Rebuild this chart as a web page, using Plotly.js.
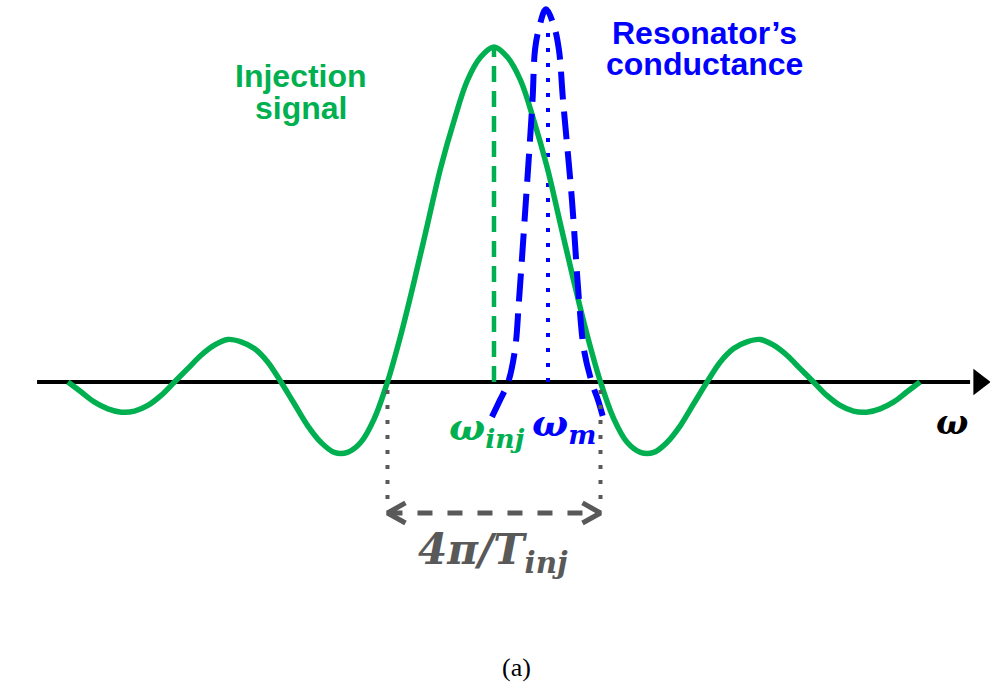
<!DOCTYPE html>
<html>
<head>
<meta charset="utf-8">
<script src="https://cdn.plot.ly/plotly-3.0.1.min.js"></script>
<style>html,body{margin:0;padding:0;background:#fff;}#chart{width:990px;height:689px;}</style>
</head>
<body>
<div id="chart"></div>
<script>
// ---- data (normalized frequency: main-lobe zero spacing = 1; amplitude: injection peak = 1)
const injX = [-4, -3.875, -3.75, -3.625, -3.5, -3.375, -3.25, -3.125, -3, -2.875, -2.75, -2.625, -2.5, -2.375, -2.25, -2.125,
              -2, -1.875, -1.75, -1.625, -1.5, -1.375, -1.25, -1.125, -1, -0.875, -0.75, -0.625, -0.5, -0.375, -0.25, -0.125,
              0, 0.125, 0.25, 0.375, 0.5, 0.625, 0.75, 0.875, 1, 1.125, 1.25, 1.375, 1.5, 1.625, 1.75, 1.875,
              2, 2.125, 2.25, 2.375, 2.5, 2.625, 2.75, 2.875, 3, 3.125, 3.25, 3.375, 3.5, 3.625, 3.75, 3.875, 4];
const injY = [0, -0.03, -0.06, -0.08, -0.09, -0.087, -0.07, -0.04, 0, 0.04, 0.08, 0.11, 0.127, 0.12, 0.10, 0.06,
              0, -0.065, -0.13, -0.18, -0.21, -0.21, -0.18, -0.11, 0, 0.14, 0.30, 0.47, 0.64, 0.78, 0.90, 0.97,
              1, 0.97, 0.90, 0.78, 0.64, 0.47, 0.30, 0.14, 0, -0.11, -0.18, -0.21, -0.21, -0.18, -0.13, -0.065,
              0, 0.06, 0.10, 0.12, 0.127, 0.11, 0.08, 0.04, 0, -0.04, -0.07, -0.087, -0.09, -0.08, -0.06, -0.03, 0];

const resX = [-0.019, 0.056, 0.131, 0.197, 0.235, 0.300, 0.362, 0.385, 0.423, 0.488,
              0.563, 0.610, 0.648, 0.732, 0.798, 0.845, 0.920, 0.977, 1.023];
const resY = [-0.104, -0.054, -0.003, 0.096, 0.245, 0.543, 0.842, 0.991, 1.057, 1.113,
              1.063, 0.991, 0.842, 0.543, 0.245, 0.096, -0.003, -0.054, -0.104];

const omegaInj = 0;        // injection centre frequency
const omegaInjPeak = 1;    // injection peak amplitude
const omegaM = 0.507;      // resonator centre frequency
const omegaMTop = 1.07;
const lobeZeros = [-1, 1]; // main-lobe zero crossings (4π/T_inj span)
const axisStart = -4.29, axisEnd = 4.47, arrowTip = 4.555;
const spanY = -0.391, spanTop = -0.024, spanBottom = -0.35;

const labels = {
  inj: ['Injection', 'signal'],
  res: ['Resonator’s', 'conductance'],
  wInj: '<b><i>ω<sub>inj</sub></i></b>',
  wM: '<b><i>ω<sub>m</sub></i></b>',
  span: '<b><i>4π/T<sub>inj</sub></i></b>',
  omega: '<b><i>ω</i></b>',
  cap: '(a)'
};

const GREEN = '#00b050', BLUE = '#0000ff', GRAY = '#595959';
const chevDx = 0.169, chevDy = 0.030;

const traces = [
  {x: [axisStart, axisEnd], y: [0, 0], mode: 'lines', line: {color: '#000', width: 4}},
  {x: [arrowTip], y: [0], mode: 'markers', marker: {symbol: 'triangle-right', size: 23, color: '#000'}},
  {x: [omegaInj, omegaInj], y: [0, omegaInjPeak], mode: 'lines', line: {color: GREEN, width: 4.5, dash: '16px,9px'}},
  {x: [omegaM, omegaM], y: [0, omegaMTop], mode: 'lines', line: {color: BLUE, width: 4, dash: '4px,11px'}},
  {x: injX, y: injY, mode: 'lines', line: {color: GREEN, width: 5.5, shape: 'spline', smoothing: 1}},
  {x: resX, y: resY, mode: 'lines', line: {color: BLUE, width: 6, dash: '28px,12px', shape: 'spline', smoothing: 1}},
  {x: [lobeZeros[0], lobeZeros[0]], y: [spanTop, spanBottom], mode: 'lines', line: {color: GRAY, width: 4, dash: '4px,11px'}},
  {x: [lobeZeros[1], lobeZeros[1]], y: [spanTop, spanBottom], mode: 'lines', line: {color: GRAY, width: 4, dash: '4px,11px'}},
  {x: [lobeZeros[0], lobeZeros[1]], y: [spanY, spanY], mode: 'lines', line: {color: GRAY, width: 5, dash: '15px,15px'}},
  {x: [lobeZeros[0] + chevDx, lobeZeros[0], lobeZeros[0] + chevDx], y: [spanY + chevDy, spanY, spanY - chevDy],
   mode: 'lines', line: {color: GRAY, width: 5}},
  {x: [lobeZeros[1] - chevDx, lobeZeros[1], lobeZeros[1] - chevDx], y: [spanY + chevDy, spanY, spanY - chevDy],
   mode: 'lines', line: {color: GRAY, width: 5}}
];

const sans = 'Liberation Sans, Arial, sans-serif';
const serif = 'DejaVu Serif, serif';
const annotations = [
  {x: -1.812, y: 0.912, text: '<b>' + labels.inj[0] + '</b>', font: {family: sans, size: 32, color: GREEN}},
  {x: -1.812, y: 0.818, text: '<b>' + labels.inj[1] + '</b>', font: {family: sans, size: 32, color: GREEN}},
  {x: 1.972, y: 1.043, text: '<b>' + labels.res[0] + '</b>', font: {family: sans, size: 32, color: BLUE}},
  {x: 1.972, y: 0.950, text: '<b>' + labels.res[1] + '</b>', font: {family: sans, size: 32, color: BLUE}},
  {x: -0.066, y: -0.14, text: labels.wInj, font: {family: serif, size: 38, color: GREEN}},
  {x: 0.657, y: -0.127, text: labels.wM, font: {family: serif, size: 38, color: BLUE}},
  {x: -0.01, y: -0.51, text: labels.span, font: {family: serif, size: 42, color: GRAY}},
  {x: 4.30, y: -0.119, text: labels.omega, font: {family: serif, size: 34, color: '#000'}},
  {x: 0.216, y: -0.851, text: labels.cap, font: {family: 'Liberation Serif, serif', size: 26, color: '#000'}}
].map(a => Object.assign({xref: 'x', yref: 'y', showarrow: false, xanchor: 'center', yanchor: 'middle', align: 'center'}, a));

const layout = {
  width: 990, height: 689,
  margin: {l: 0, r: 0, t: 0, b: 0},
  paper_bgcolor: '#fff', plot_bgcolor: '#fff',
  showlegend: false,
  xaxis: {range: [-4.638, 4.657], visible: false, fixedrange: true},
  yaxis: {range: [-0.9164, 1.1403], visible: false, fixedrange: true},
  annotations: annotations
};

Plotly.newPlot('chart', traces, layout, {staticPlot: true, displayModeBar: false});
</script>
</body>
</html>
